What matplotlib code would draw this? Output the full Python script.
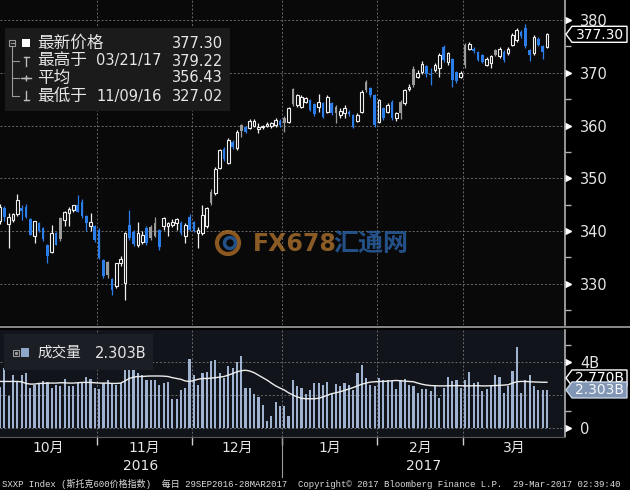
import numpy as np
import pandas as pd
import matplotlib
matplotlib.use('Agg')
import matplotlib.pyplot as plt
from matplotlib.patches import Rectangle, Polygon, Circle
from matplotlib.transforms import blended_transform_factory

plt.rcParams['font.family'] = ['DejaVu Sans', 'Noto Sans CJK SC']
CJK = ['Noto Sans CJK SC', 'DejaVu Sans']
MONO = ['Liberation Mono', 'Noto Sans CJK SC']

# trading days 29 Sep 2016 - 28 Mar 2017 (STOXX closed on 26 Dec)
dates = pd.bdate_range('2016-09-29', '2017-03-28').drop(pd.Timestamp('2016-12-26'))

opens = [342.0, 344.3, 341.3, 342.1, 343.2, 344.4, 344.5, 342.2, 339.0, 341.5,
         340.5, 337.4, 336.1, 339.6, 342.4, 342.1, 343.4, 344.0, 345.0, 345.6,
         342.8, 340.9, 340.9, 340.2, 334.5, 334.2, 331.0, 329.5, 333.9, 330.1,
         341.2, 339.9, 337.4, 338.0, 340.5, 340.8, 341.5, 340.2, 341.0, 340.9,
         341.2, 341.5, 341.6, 339.0, 342.7, 341.8, 339.6, 339.7, 341.0, 347.5,
         347.3, 352.0, 355.6, 353.0, 356.9, 355.7, 360.1, 359.7, 359.6, 360.0,
         359.3, 359.7, 360.0, 359.9, 360.1, 360.9, 361.4, 360.7, 367.0, 363.9,
         363.6, 364.5, 364.8, 364.0, 363.6, 364.2, 362.6, 364.2, 363.6, 362.0,
         362.3, 362.6, 362.0, 360.9, 362.6, 368.3, 367.1, 365.8, 360.7, 363.3,
         362.6, 364.5, 361.4, 364.5, 364.2, 366.9, 370.8, 369.3, 370.2, 371.2,
         369.8, 370.5, 370.85, 374.95, 372.1, 372.6, 370.2, 369.3, 375.3, 374.6,
         374.6, 374.0, 373.4, 371.5, 371.8, 374.3, 373.1, 374.0, 373.7, 375.3,
         376.2, 377.8, 378.4, 374.3, 373.7, 376.5, 375.0, 374.95]
highs = [345.2, 344.8, 343.4, 343.5, 347.0, 344.9, 345.1, 342.5, 342.0, 341.8,
         340.8, 337.6, 341.2, 339.9, 342.6, 343.8, 344.6, 345.0, 346.9, 346.0,
         343.0, 343.4, 341.2, 340.5, 334.7, 334.4, 331.2, 333.9, 335.2, 339.9,
         344.0, 340.2, 341.8, 340.0, 341.0, 341.2, 342.7, 340.4, 342.7, 341.8,
         342.3, 342.4, 342.0, 341.5, 343.3, 342.0, 340.8, 345.0, 344.6, 347.9,
         352.2, 355.6, 355.9, 357.6, 357.2, 359.2, 360.3, 360.0, 361.2, 361.2,
         360.4, 360.2, 360.6, 360.7, 361.4, 361.2, 361.8, 363.6, 367.2, 366.0,
         365.8, 365.5, 365.0, 364.3, 366.0, 364.4, 365.8, 364.4, 363.9, 363.3,
         363.9, 363.0, 362.2, 362.3, 366.7, 368.6, 367.3, 366.0, 365.0, 363.5,
         364.2, 364.8, 362.6, 364.8, 367.0, 367.8, 371.2, 370.5, 372.2, 371.4,
         370.85, 371.8, 373.7, 375.2, 374.0, 372.8, 370.4, 370.3, 375.6, 375.9,
         374.9, 374.2, 373.6, 373.0, 373.3, 374.5, 374.8, 374.3, 374.9, 377.5,
         378.4, 378.2, 379.22, 374.5, 377.1, 376.8, 375.2, 377.5]
lows = [341.4, 342.0, 336.8, 341.8, 342.9, 342.1, 342.4, 339.2, 337.8, 339.8,
        338.2, 333.9, 335.8, 337.3, 338.1, 340.9, 340.9, 343.6, 343.6, 342.5,
        340.0, 340.0, 338.0, 334.8, 331.2, 331.2, 327.9, 329.2, 333.4, 327.02,
        338.4, 337.1, 337.0, 337.5, 337.3, 338.3, 338.8, 336.5, 340.2, 339.0,
        340.8, 340.2, 339.3, 337.7, 340.0, 339.8, 336.8, 339.3, 340.6, 345.0,
        346.8, 351.7, 353.3, 352.7, 355.6, 355.4, 357.9, 358.5, 359.3, 359.7,
        358.5, 359.4, 359.8, 359.6, 359.8, 359.8, 358.7, 360.5, 363.7, 363.6,
        363.3, 364.2, 362.7, 361.8, 362.6, 361.4, 362.3, 362.0, 360.4, 361.4,
        361.4, 361.9, 359.5, 360.7, 362.3, 366.4, 365.5, 359.7, 360.4, 361.0,
        362.3, 361.0, 360.9, 361.2, 363.9, 366.5, 367.3, 369.0, 369.8, 369.3,
        367.7, 370.2, 369.3, 372.1, 371.5, 367.4, 368.0, 369.0, 370.9, 374.4,
        373.8, 372.2, 371.8, 371.3, 370.85, 373.2, 372.9, 372.1, 373.4, 375.0,
        375.9, 376.6, 374.7, 372.3, 373.4, 375.0, 372.7, 374.7]
closes = [344.6, 342.6, 342.6, 343.2, 345.9, 343.8, 342.6, 339.3, 341.9, 340.0,
          338.5, 335.3, 339.6, 337.4, 338.5, 343.7, 344.1, 345.0, 343.7, 342.8,
          341.5, 341.7, 338.4, 334.9, 331.4, 331.6, 328.9, 333.9, 334.8, 339.7,
          338.7, 337.6, 339.6, 339.2, 337.7, 338.6, 339.0, 336.9, 342.5, 341.5,
          341.8, 342.2, 339.6, 341.2, 340.2, 340.0, 340.2, 343.0, 344.3, 345.3,
          351.8, 355.4, 353.6, 357.3, 355.9, 358.8, 358.9, 358.8, 360.8, 360.8,
          359.8, 359.9, 360.3, 360.4, 361.1, 360.2, 360.4, 363.3, 364.0, 365.8,
          365.5, 365.3, 363.0, 362.2, 364.5, 361.7, 365.5, 362.3, 362.4, 362.8,
          363.3, 362.2, 359.8, 362.0, 366.4, 366.7, 365.8, 360.1, 364.85, 361.4,
          363.9, 361.4, 362.3, 362.4, 366.7, 367.4, 367.6, 369.9, 371.6, 369.7,
          369.5, 371.5, 373.4, 372.4, 373.7, 368.6, 368.4, 369.9, 371.4, 375.5,
          374.1, 372.5, 372.1, 372.7, 373.1, 373.4, 374.6, 372.4, 374.6, 377.2,
          378.1, 377.0, 375.0, 373.4, 376.85, 375.3, 374.0, 377.30]

# volume in billions and its moving average
volume = [2.46, 3.61, 1.93, 3.21, 2.82, 3.21, 3.31, 2.42, 2.62, 2.72,
          2.82, 2.76, 2.42, 2.62, 2.56, 2.96, 2.52, 2.52, 2.72, 2.76,
          3.07, 2.96, 2.42, 2.36, 2.72, 2.88, 2.72, 2.62, 2.72, 3.61,
          4.8, 3.55, 3.31, 3.21, 2.88, 2.92, 2.92, 2.62, 2.72, 2.76,
          1.73, 1.77, 2.33, 2.42, 4.2, 3.21, 2.62, 3.31, 3.41, 4.06,
          4.1, 3.31, 3.01, 3.74, 3.61, 4.0, 4.39, 2.42, 2.42, 2.03,
          1.9, 1.4, 0.4, 0.75, 1.6, 1.3, 1.3, 0.75, 2.88, 2.56,
          2.42, 2.03, 2.33, 2.72, 2.72, 2.62, 2.78, 2.03, 2.68, 2.56,
          2.72, 2.62, 2.33, 3.31, 3.8, 3.01, 2.62, 2.56, 3.01, 2.92,
          2.92, 2.82, 2.36, 2.88, 2.96, 2.62, 2.52, 2.09, 2.36, 2.36,
          2.23, 2.52, 1.83, 2.42, 3.11, 2.82, 2.88, 2.42, 2.88, 3.41,
          2.72, 2.76, 2.23, 2.36, 2.52, 3.21, 3.11, 2.09, 2.52, 3.47,
          4.93, 2.09, 2.88, 3.21, 2.56, 2.29, 2.33, 2.303]
volume_avg = [2.82, 2.82, 2.82, 2.82, 2.82, 2.80, 2.70, 2.66, 2.66, 2.70,
              2.70, 2.72, 2.72, 2.72, 2.74, 2.74, 2.72, 2.72, 2.74, 2.76,
              2.76, 2.76, 2.74, 2.72, 2.72, 2.72, 2.70, 2.70, 2.72, 2.85,
              3.00, 3.08, 3.12, 3.12, 3.14, 3.15, 3.15, 3.15, 3.14, 3.12,
              3.05, 3.00, 2.95, 2.85, 2.82, 2.88, 2.95, 3.00, 3.00, 3.02,
              3.05, 3.08, 3.12, 3.20, 3.30, 3.40, 3.47, 3.50, 3.45, 3.35,
              3.20, 3.05, 2.90, 2.72, 2.55, 2.42, 2.30, 2.13, 2.00, 1.88,
              1.80, 1.77, 1.77, 1.77, 1.80, 1.88, 1.98, 2.08, 2.13, 2.20,
              2.28, 2.36, 2.45, 2.55, 2.65, 2.72, 2.78, 2.80, 2.82, 2.82,
              2.84, 2.86, 2.88, 2.86, 2.84, 2.82, 2.80, 2.72, 2.65, 2.60,
              2.57, 2.56, 2.55, 2.55, 2.56, 2.56, 2.57, 2.56, 2.55, 2.55,
              2.56, 2.56, 2.55, 2.55, 2.56, 2.57, 2.58, 2.60, 2.62, 2.72,
              2.80, 2.82, 2.82, 2.80, 2.79, 2.78, 2.77, 2.77]

average_price = 356.43

TXT = '#e6e6e6'
GRID = '#6a6a6a'
BLUE = '#2b7de9'
GREY = '#9b9b9b'
WHITE = '#f0f0f0'
VOLC = '#9fb3d1'
PRICE_BG = '#090909'
VOL_BG = '#11141a'

fig = plt.figure(figsize=(6.3, 4.9), dpi=100, facecolor='black')
ax = fig.add_axes([0, 1 - 325 / 490, 565 / 630, 325 / 490], facecolor=PRICE_BG)
axv = fig.add_axes([0, 1 - 437 / 490, 565 / 630, 107 / 490], facecolor=VOL_BG, sharex=ax)

x = np.arange(len(dates))
o, h, l, c = map(np.array, (opens, highs, lows, closes))
prev = np.r_[c[0], c[:-1]]
up = c >= o
blue = (~up) & (c < prev)
col = np.where(up, WHITE, np.where(blue, BLUE, GREY))

# month boundaries (the two September days belong to the first span)
new_month = [i for i in range(1, len(dates)) if dates[i].month != dates[i - 1].month]
bounds = [i - 0.5 for i in new_month[1:]]

# candles
ax.vlines(x, l, h, colors=col, lw=0.9, zorder=3)
body_lo = np.minimum(o, c)
body_h = np.maximum(np.abs(c - o), 0.15)
ax.bar(x[up], body_h[up], 0.62, body_lo[up], facecolor=PRICE_BG,
       edgecolor=WHITE, lw=0.8, zorder=4)
ax.bar(x[~up], body_h[~up], 0.62, body_lo[~up], color=col[~up], lw=0, zorder=4)

ax.set_xlim(-0.02, 131.2)
ax.set_ylim(322.2, 383.8)

# volume
axv.bar(x, volume, 0.5, color=VOLC, zorder=3)
axv.plot(x, volume_avg, color='#ececec', lw=1.0, zorder=4)
axv.set_ylim(-0.55, 5.94)

for a, ticks, labels, minors in [
        (ax, list(range(330, 381, 10)), [str(t) for t in range(330, 381, 10)],
         list(range(325, 385, 10))),
        (axv, [0, 4], ['0', '4B'], [1, 3, 5])]:
    a.yaxis.tick_right()
    a.set_yticks(ticks)
    a.set_yticklabels(labels)
    a.set_yticks(minors, minor=True)
    a.tick_params(axis='y', which='major', length=0, pad=11, labelsize=10.5,
                  labelcolor=TXT)
    a.tick_params(axis='y', which='minor', length=4, color='#b0b0b0', width=1)
    for s in ['left', 'top', 'bottom']:
        a.spines[s].set_visible(False)
    a.spines['right'].set_color('#b0b0b0')
    a.spines['right'].set_linewidth(1.2)
    tr = blended_transform_factory(a.transAxes, a.transData)
    a.plot([1.006] * len(ticks), ticks, '>', color='white', ms=4.5,
           transform=tr, clip_on=False)
    for b in bounds:
        a.axvline(b, color=GRID, lw=0.7, ls=(0, (2, 2)), zorder=1)

for v in range(330, 381, 10):
    ax.axhline(v, color=GRID, lw=0.7, ls=(0, (2, 2)), zorder=1)
for v in [0, 2, 4]:
    axv.axhline(v, color=GRID, lw=0.7, ls=(0, (2, 2)), zorder=1)

# x axis: month ticks at boundaries, names in the middle of each span
ax.tick_params(axis='x', which='both', bottom=False, labelbottom=False)
edges = [ax.get_xlim()[0]] + bounds + [ax.get_xlim()[1]]
centers = [(edges[k] + edges[k + 1]) / 2 for k in range(len(edges) - 1)]
month_names = [f'{dates[min(int(round(m)), len(dates) - 1)].month}月' for m in centers]
axv.set_xticks(bounds)
axv.set_xticklabels([])
axv.tick_params(axis='x', which='major', length=6, color='#d0d0d0', width=1,
                direction='out')
axv.set_xticks(centers, minor=True)
axv.set_xticklabels(month_names, minor=True)
axv.tick_params(axis='x', which='minor', length=0, pad=3, labelsize=10,
                labelcolor=TXT)
axv.spines['bottom'].set_visible(True)
axv.spines['bottom'].set_color('#5a5a5a')

year_start = [i for i in range(1, len(dates)) if dates[i].year != dates[i - 1].year][0] - 0.5
xl = ax.get_xlim()
txf = blended_transform_factory(axv.transData, axv.transAxes)
axv.text((xl[0] + year_start) / 2, -0.27, str(dates[0].year), transform=txf,
         ha='center', va='center', fontsize=10, color=TXT)
axv.text((year_start + xl[1]) / 2, -0.27, str(dates[-1].year), transform=txf,
         ha='center', va='center', fontsize=10, color=TXT)
axv.plot([year_start, year_start], [0, -0.37], transform=txf, color='#9a9a9a',
         lw=0.8, clip_on=False)

# overlay in pixel coordinates for legends, tags and footer
ov = fig.add_axes([0, 0, 1, 1], facecolor='none')
ov.set_xlim(0, 630)
ov.set_ylim(490, 0)
ov.axis('off')
ov.set_zorder(10)


def px_y(a, v):
    return 490 - a.transData.transform((0, v))[1]


def tag(y, text, fc, ec, tc):
    pts = [(566, y), (572, y - 8), (627, y - 8), (627, y + 8), (572, y + 8)]
    ov.add_patch(Polygon(pts, closed=True, fc=fc, ec=ec, lw=1))
    ov.text(600, y + 0.5, text, color=tc, fontsize=10, ha='center', va='center')


ov.plot([0, 630], [327, 327], color='#8a8a8a', lw=1.4)

# watermark
ov.add_patch(Circle((228, 243), 11, fc='none', ec='#c47a2c', lw=3, alpha=0.7))
ov.add_patch(Circle((230, 243), 5.5, fc='none', ec='#2a63a8', lw=2.5, alpha=0.8))
ov.text(253, 244, 'FX678', fontsize=17, fontweight='bold', color='#b7772f',
        alpha=0.75, va='center')
ov.text(333, 244, '汇通网', family=CJK, fontsize=18, fontweight='bold',
        color='#2a63a8', alpha=0.8, va='center')

# price legend
ov.add_patch(Rectangle((5, 28), 225, 83, fc='#1b1b1b', ec='none'))
ov.add_patch(Rectangle((9, 40), 6, 6, fc='none', ec='#9a9a9a', lw=0.8))
ov.plot([10.5, 13.5], [43, 43], color='#9a9a9a', lw=0.8)
ov.plot([12, 12], [46, 96], color='#9a9a9a', lw=0.8)
for yy in [61, 78, 96]:
    ov.plot([12, 19], [yy, yy], color='#9a9a9a', lw=0.8)
ov.add_patch(Rectangle((22, 39), 8, 8, fc='white', ec='none'))
ov.plot([26, 26], [57, 66], color='#bdbdbd', lw=1)
ov.plot([23.5, 28.5], [57, 57], color='#bdbdbd', lw=1)
ov.plot([21, 31], [78, 78], color='#bdbdbd', lw=1)
ov.plot([26], [78], marker='+', color='#bdbdbd', ms=5)
ov.plot([26, 26], [91, 100], color='#bdbdbd', lw=1)
ov.plot([23.5, 28.5], [100, 100], color='#bdbdbd', lw=1)

i_hi = int(np.argmax(h))
i_lo = int(np.argmin(l))
rows = [(43, '最新价格', '', f'{c[-1]:.2f}'),
        (61, '最高于', dates[i_hi].strftime('%m/%d/%y'), f'{h[i_hi]:.2f}'),
        (78, '平均', '', f'{average_price:.2f}'),
        (96, '最低于', dates[i_lo].strftime('%m/%d/%y'), f'{l[i_lo]:.2f}')]
for yy, name, day, val in rows:
    ov.text(37, yy, name, family=CJK, fontsize=12, color=TXT, va='center')
    if day:
        ov.text(96, yy, day, fontsize=10.5, color=TXT, va='center')
    ov.text(223, yy, val, fontsize=10.5, color=TXT, va='center', ha='right')

# volume legend
ov.add_patch(Rectangle((4, 334), 149, 36, fc='#1b1e24', ec='none'))
ov.add_patch(Rectangle((13, 350), 6, 6, fc='none', ec='#9a9a9a', lw=0.8))
ov.plot([16], [353], marker='s', ms=1.2, color='#9a9a9a')
ov.add_patch(Rectangle((21, 348), 8, 9, fc='#8ea6c8', ec='none'))
ov.text(37, 353, '成交量', family=CJK, fontsize=10.5, color=TXT, va='center')
ov.text(95, 353, f'{volume[-1]:.3f}B', fontsize=10.5, color=TXT, va='center')

# value tags on the right (the average tag is pushed up, partly hidden)
y_vol = px_y(axv, volume[-1])
y_avg = min(px_y(axv, volume_avg[-1]), y_vol - 12)
tag(px_y(ax, c[-1]), f'{c[-1]:.2f}', 'black', 'white', 'white')
tag(y_avg, f'{volume_avg[-1]:.3f}B', 'black', 'white', 'white')
tag(y_vol, f'{volume[-1]:.3f}B', '#8196b4', '#c8d4e4', '#f4f6fa')

footer = ('SXXP Index (斯托克600价格指数)  每日 29SEP2016-28MAR2017  '
          'Copyright© 2017 Bloomberg Finance L.P.  29-Mar-2017 02:39:40')
ov.text(2, 484, footer, family=MONO, fontsize=6.45, color='#dcdcdc', va='center')

fig.savefig('out.png', dpi=100, facecolor='black')
